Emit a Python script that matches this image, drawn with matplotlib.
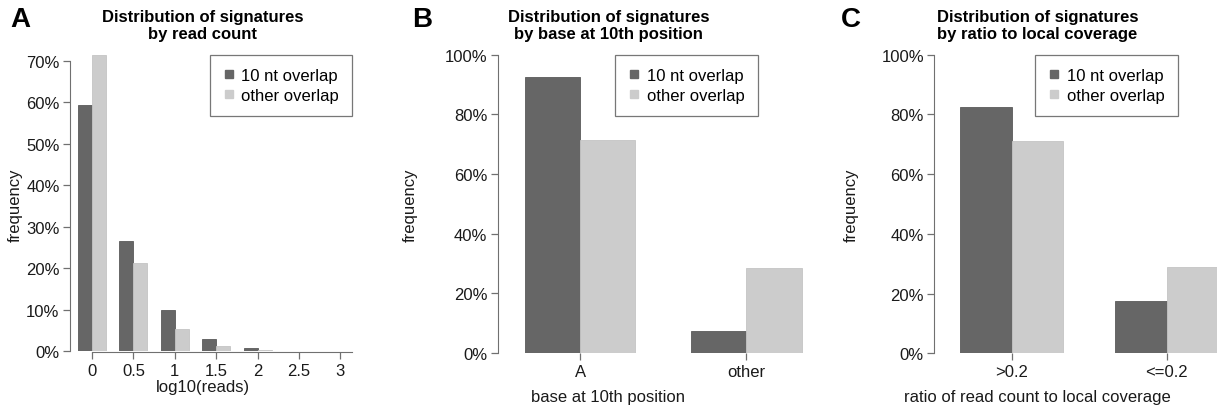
import matplotlib
matplotlib.use("Agg")
import matplotlib.pyplot as plt
from matplotlib.lines import Line2D
import numpy as np

plt.rcParams['font.family'] = ['Liberation Sans', 'DejaVu Sans']
plt.rcParams['font.size'] = 12

W, H = 1217, 410

# panel A: read count distribution (percent)
logReads = [0, 0.5, 1, 1.5, 2, 2.5, 3]
ntA = [59.3, 26.6, 9.8, 2.9, 0.65, 0.08, 0.0]
otherA = [71.4, 21.2, 5.4, 1.1, 0.2, 0.03, 0.0]

# panel B: base at 10th position
basesB = ["A", "other"]
ntB = [92.6, 7.4]
otherB = [71.4, 28.6]

# panel C: ratio to local coverage
ratiosC = [">0.2", "<=0.2"]
ntC = [82.5, 17.5]
otherC = [71.0, 29.0]

seriesNames = ["10 nt overlap", "other overlap"]
dark = "#666666"
light = "#cccccc"
axcol = "#707070"

fig = plt.figure(figsize=(W / 100, H / 100), dpi=100)


def px(x0, y0, x1, y1):
    # pixel box (left, top, right, bottom) -> figure fraction
    return [x0 / W, 1 - y1 / H, (x1 - x0) / W, (y1 - y0) / H]


def style(ax, yticks):
    for s in ["top", "right"]:
        ax.spines[s].set_visible(False)
    ax.spines["left"].set_color(axcol)
    ax.spines["left"].set_bounds(yticks[0], yticks[-1])
    ax.spines["bottom"].set_color(axcol)
    ax.set_yticks(yticks)
    ax.set_yticklabels(["%d%%" % round(v) for v in yticks])
    ax.tick_params(axis="both", colors=axcol, labelcolor="#1a1a1a",
                   length=5, width=0.9, labelsize=12)
    ax.tick_params(axis="y", pad=2.5)
    ax.tick_params(axis="x", pad=3)
    ax.set_facecolor("none")


def legend(ax, right):
    hs = [Line2D([], [], marker="s", ls="", color=dark, markersize=6),
          Line2D([], [], marker="s", ls="", color=light, markersize=6)]
    lg = ax.legend(hs, seriesNames, loc="upper right", fancybox=False,
                   framealpha=1, edgecolor="#777777", fontsize=12,
                   borderpad=0.8, handletextpad=0.4, handlelength=0.7,
                   labelspacing=0.3, borderaxespad=0,
                   bbox_to_anchor=(right / W, 1 - 55.7 / H),
                   bbox_transform=fig.transFigure)
    lg.get_frame().set_linewidth(0.9)


# ---- A ----
axA = fig.add_axes(px(70, 55, 352, 352))
wA = 0.17
xa = np.array(logReads)
axA.bar(xa - wA, ntA, wA, align="edge", color=dark, edgecolor="#5a5a5a", lw=0.6)
axA.bar(xa, otherA, wA, align="edge", color=light, edgecolor="#c4c4c4", lw=0.6)
axA.set_xlim(-0.266, 3.14)
axA.set_ylim(0, 71.7)
style(axA, [0, 10, 20, 30, 40, 50, 60, 70])
axA.spines["bottom"].set_bounds(0, 3.14)
axA.spines["bottom"].set_position(("outward", 1))
axA.set_xticks(logReads)
axA.set_xticklabels(["0", "0.5", "1", "1.5", "2", "2.5", "3"])
legend(axA, 352.3)


def catpanel(box, xl, names, v1, v2, legright):
    ax = fig.add_axes(px(*box))
    x = np.arange(len(names))
    w = 1 / 3
    ax.bar(x - w, v1, w, align="edge", color=dark, edgecolor="#5a5a5a", lw=0.6)
    ax.bar(x, v2, w, align="edge", color=light, edgecolor="#c4c4c4", lw=0.6)
    ax.set_xlim(*xl)
    ax.set_ylim(0, 100)
    style(ax, [0, 20, 40, 60, 80, 100])
    ax.spines["bottom"].set_visible(False)
    ax.set_xticks(x)
    ax.set_xticklabels(names)
    legend(ax, legright)
    return ax


axB = catpanel((497.7, 55.7, 807, 354), (-0.496, 1.366), basesB, ntB, otherB, 757.7)
axC = catpanel((934.3, 55.7, 1217, 354.3), (-0.499, 1.325), ratiosC, ntC, otherC, 1177.7)


def ftext(x, y, s, **kw):
    fig.text(x / W, 1 - y / H, s, ha="center", va="center", **kw)


titles = [(202.3, "Distribution of signatures\nby read count"),
          (608.3, "Distribution of signatures\nby base at 10th position"),
          (1037.5, "Distribution of signatures\nby ratio to local coverage")]
for x, t in titles:
    ftext(x, 26, t, fontsize=12, fontweight="bold", linespacing=1.15,
          multialignment="center")

for x, l in [(20, "A"), (422, "B"), (851, "C")]:
    ftext(x, 20, l, fontsize=20, fontweight="heavy")

for x in [15, 410, 851.7]:
    ftext(x, 205, "frequency", rotation=90, color="#1a1a1a")

ftext(202.5, 388, "log10(reads)", color="#1a1a1a")
ftext(608.3, 398, "base at 10th position", color="#1a1a1a")
ftext(1037.5, 398, "ratio of read count to local coverage", color="#1a1a1a")

fig.savefig("out.png", dpi=100)
